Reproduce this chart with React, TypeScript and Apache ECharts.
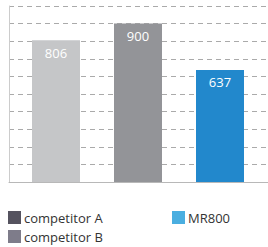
import React, { useEffect, useRef } from "react";
import * as echarts from "echarts";

const categories = ["competitor A", "competitor B", "MR800"];
const values = [806, 900, 637];
const barColors = ["#c5c6c8", "#939498", "#2288cc"];
const legendColors = ["#55535f", "#7e7c8a", "#4aaee0"];

export default function App() {
  const ref = useRef<HTMLDivElement>(null);
  useEffect(() => {
    const chart = echarts.init(ref.current!, undefined, { renderer: "svg" });
    const font = "'Open Sans', 'Noto Sans', sans-serif";
    const series = categories.map((name, i) => ({
      name,
      type: "bar",
      xAxisIndex: 1,
      yAxisIndex: 1,
      barWidth: 48,
      barGap: "-100%",
      itemStyle: { color: legendColors[i] },
      data: categories.map((_, j) =>
        j === i ? { value: values[i], itemStyle: { color: barColors[i] } } : "-"
      ),
      label: {
        show: true,
        position: "insideTop",
        distance: 6,
        color: "#ffffff",
        fontSize: 13,
        fontFamily: font,
      },
    }));
    chart.setOption({
      animation: false,
      grid: [
        { left: 9, right: 0, top: 6, bottom: 65 },
        { left: 15, width: 246, top: 6, bottom: 65 },
      ],
      xAxis: [
        {
          gridIndex: 0,
          type: "category",
          data: categories,
          axisLine: { show: true, lineStyle: { color: "#b8b8b8", width: 1 } },
          axisTick: { show: false },
          axisLabel: { show: false },
        },
        {
          gridIndex: 1,
          type: "category",
          data: categories,
          axisLine: { show: false },
          axisTick: { show: false },
          axisLabel: { show: false },
        },
      ],
      yAxis: [
        {
          gridIndex: 0,
          type: "value",
          min: 0,
          max: 1000,
          interval: 100,
          axisLine: { show: true, lineStyle: { color: "#cccccc", width: 1 } },
          axisTick: { show: false },
          axisLabel: { show: false },
          splitLine: {
            show: true,
            lineStyle: { color: "#aaaaaa", type: [5, 4], width: 1 },
          },
        },
        {
          gridIndex: 1,
          type: "value",
          min: 0,
          max: 1000,
          interval: 100,
          axisLine: { show: false },
          axisTick: { show: false },
          axisLabel: { show: false },
          splitLine: { show: false },
        },
      ],
      legend: [
        {
          data: [categories[0], categories[1]],
          orient: "vertical",
          left: 8,
          top: 211,
          itemWidth: 13,
          itemHeight: 13,
          itemGap: 6,
          icon: "rect",
          textStyle: { color: "#333333", fontSize: 13, fontFamily: font, padding: [0, 0, 0, -2] },
          padding: 0,
        },
        {
          data: [categories[2]],
          orient: "vertical",
          left: 172,
          top: 211,
          itemWidth: 13,
          itemHeight: 13,
          icon: "rect",
          textStyle: { color: "#333333", fontSize: 13, fontFamily: font, padding: [0, 0, 0, -2] },
          padding: 0,
        },
      ],
      series,
    });
    return () => chart.dispose();
  }, []);
  return <div ref={ref} style={{ width: 268, height: 247, position: "absolute", left: 0, top: 0 }} />;
}
